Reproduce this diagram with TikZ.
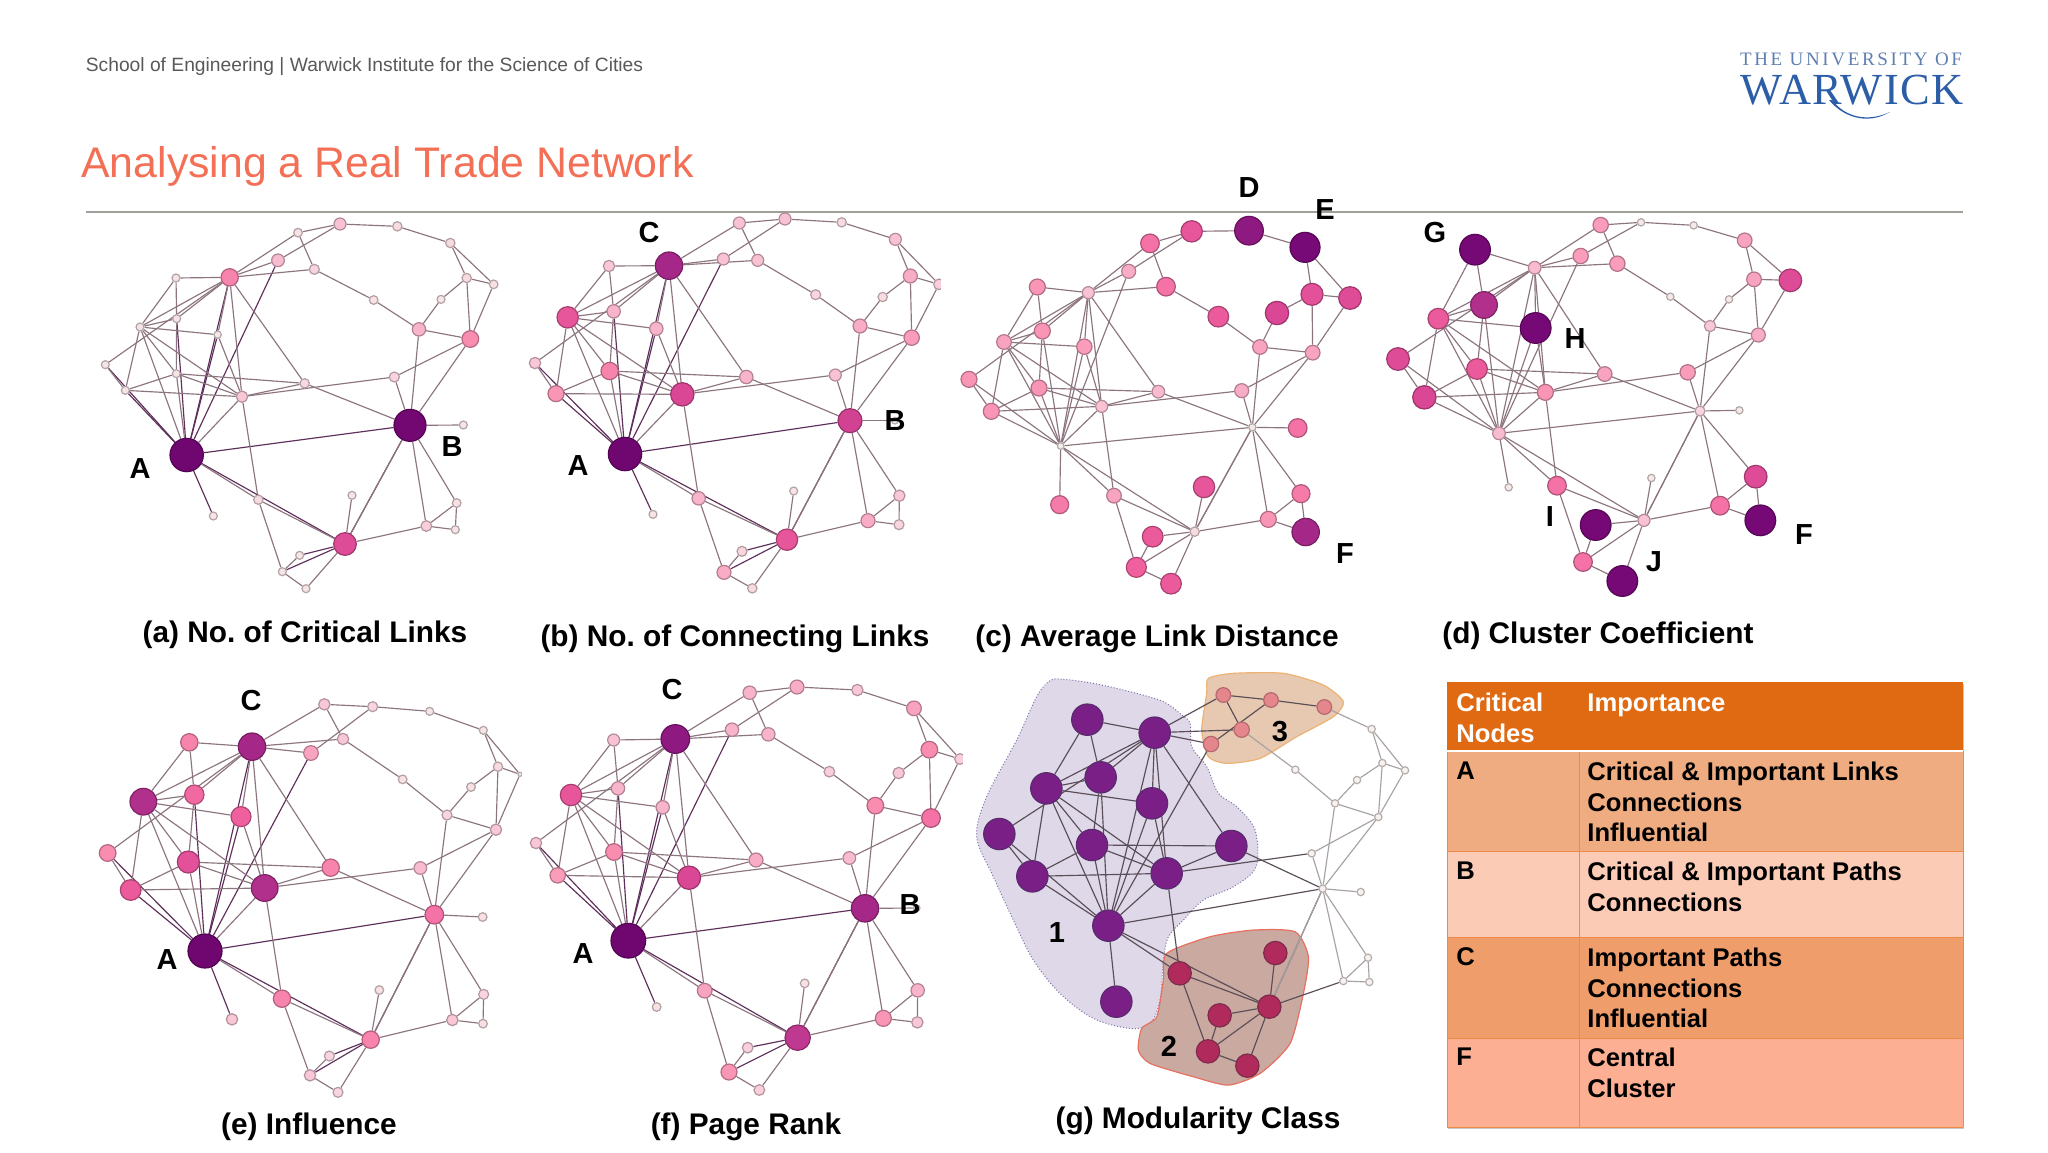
\documentclass[tikz,border=0pt]{standalone}
\usepackage{fontspec}
\setmainfont{Liberation Sans}
\newfontfamily\logosmall[LetterSpace=14]{Liberation Serif}
\newfontfamily\logobig[LetterSpace=3]{Liberation Serif}
\pgfdeclarelayer{blobs}\pgfdeclarelayer{edges}\pgfsetlayers{blobs,edges,main}
\definecolor{nc5}{HTML}{F6EEEA}\definecolor{nc10}{HTML}{F6EEEA}\definecolor{nc15}{HTML}{F9D6DF}
\definecolor{nc20}{HTML}{F8B4CB}\definecolor{nc25}{HTML}{F98DB0}\definecolor{nc30}{HTML}{F0609E}
\definecolor{nc35}{HTML}{D94795}\definecolor{nc40}{HTML}{B0308C}\definecolor{nc45}{HTML}{780A78}
\definecolor{nc50}{HTML}{700670}\definecolor{nc55}{HTML}{700670}
\definecolor{edgemid}{HTML}{8D7580}\definecolor{edgeheavy}{HTML}{5E2F5A}
\definecolor{hdr}{HTML}{E06A12}\definecolor{rowa}{HTML}{EFAC80}\definecolor{rowb}{HTML}{FBCBB6}
\definecolor{rowc}{HTML}{EF9D6B}\definecolor{rowf}{HTML}{FCAF92}\definecolor{gridc}{HTML}{EE8A45}
\definecolor{warblue}{HTML}{2C5EA8}\definecolor{warpale}{HTML}{5F7FB2}
\definecolor{gPur}{HTML}{7A1F86}\definecolor{gPurD}{HTML}{5A2A6E}
\definecolor{gRed}{HTML}{B02A5C}\definecolor{gRedD}{HTML}{7E2A4A}
\definecolor{gSal}{HTML}{E5868C}\definecolor{gSalD}{HTML}{B5686E}
\definecolor{gWht}{HTML}{F7F2EE}\definecolor{gWhtD}{HTML}{B5ADAD}
\definecolor{gE}{HTML}{5B4E58}\definecolor{gR}{HTML}{A8A2A2}
\tikzset{
  gnode/.style={circle,inner sep=0pt,line width=0.6pt},
  edgeline/.style={line width=0.58pt},
  plabel/.style={font=\fontsize{14.5}{16}\selectfont\bfseries,text=black,inner sep=0pt},
  caption/.style={font=\fontsize{14.9}{16}\selectfont\bfseries\frenchspacing,text=black,inner sep=0pt},
  celltext/.style={font=\fontsize{12.8}{15.35}\selectfont\bfseries,align=left,inner sep=0pt,anchor=north west,text=black},
  headtext/.style={celltext,text=white},
  blobzoom/.style={shift={(960,660)},x=0.1667pt,y=-0.1667pt},
}
\newcommand\heavyedges{A/H,A/C,A/s,A/R,A/L,A/M,A/J,A/B,A/Aleaf,B/J,J/S1,J/S2}
\newcommand\midedges{A/P,A/I,A/K,A/N,L/C,P/C,H/K,J/S3,G/C,G/P,G/H,H/C,H/P,P/R,P/K,P/N,P/M,L/M,M/K,M/N,K/N,K/O,R/C,R/N,N/C,N/O,N/Q,N/I,O/C,O/B,I/J,I/S2,J/Jleaf,J/Fb,S1/S2,S2/S3,C/t1,C/s,C/u,s/t2,t1/t2,t1/u,t2/t3}
\newcommand\rightedges{t3/t4,Q/q,Q/B,B/w,B/q,B/Bleaf,B/Fa,B/Fb,Fa/Fb,Fb/Fc,Fa/Fc,J/B,t4/y,t4/z,y/z,y/x,y/q,z/q,x/w,w/v,w/q,v/u}
\newcommand\paneledges[4]{%
  \begin{pgfonlayer}{edges}
  \foreach \a/\b in \heavyedges {\draw[edgeline,draw=#2] (#1\a) -- (#1\b);}
  \foreach \a/\b in \midedges {\draw[edgeline,draw=#3] (#1\a) -- (#1\b);}
  \foreach \a/\b in \rightedges {\draw[edgeline,draw=#4] (#1\a) -- (#1\b);}
  \end{pgfonlayer}}
\newcommand\panelnodes[4]{%
  \foreach \n/\x/\y/\r in {#4} {
    \pgfmathtruncatemacro\lo{floor(\r/5)*5}
    \pgfmathtruncatemacro\hi{\lo+5}
    \pgfmathtruncatemacro\pp{(\hi-\r)*20}
    \colorlet{nc}{nc\lo!\pp!nc\hi}
    \node[gnode,fill=nc,draw=nc!72!black,minimum size=\r/3*1pt] (#1\n) at ({#2+\x/3},{#3+\y/3}) {};
  }}
\newcommand\gnodes[3]{%
  \foreach \n/\x/\y/\r in {#3} {
    \node[gnode,fill=#1,draw=#2,minimum size=\r/3*1pt] (g\n) at ({960+\x/3},{660+\y/3}) {};
  }}
\begin{document}
\begin{tikzpicture}[x=0.5pt,y=-0.5pt]
\useasboundingbox (0,0) rectangle (2048,1152);
\begin{pgfonlayer}{blobs}
\fill[white] (0,0) rectangle (2048,1152);
\end{pgfonlayer}
% header
\node[anchor=west,inner sep=0pt,text=black!65,font=\fontsize{9.62}{12}\selectfont] (head) at (85.5,67) {School of Engineering | Warwick Institute for the Science of Cities};
\node[anchor=west,inner sep=0pt,text={rgb,255:red,243;green,112;blue,86},font=\fontsize{21.4}{26}\selectfont] (title) at (81,166) {Analysing a Real Trade Network};
\coordinate (ruleL) at (86,212);\coordinate (ruleR) at (1963,212);
\draw[line width=1pt,draw={rgb,255:red,160;green,160;blue,154}] (ruleL) -- (ruleR);
% logo
\node[inner sep=0pt,text=warpale,font=\fontsize{9.5}{10}\logosmall] (logoA) at (1851,59) {THE UNIVERSITY OF};
\node[inner sep=0pt,text=warblue,font=\fontsize{22.2}{24}\logobig] (logoB) at (1852,90) {WARWICK};
\fill[warblue] (1829,100) .. controls (1842,116) and (1866,126) .. (1890,112) .. controls (1868,122) and (1846,118) .. (1832,100) -- cycle;
% panel a
\panelnodes{a}{80}{200}{A/320/765/50,B/990/676/48,C/449/232/26,s/594/181/19,t1/654/98/13,t2/780/72/18,t3/952/79/14,t4/1111/129/14,u/703/208/15,v/881/300/13,w/1017/388/20,x/1083/298/12,y/1160/234/14,z/1241/253/13,q/1171/417/25,G/288/234/12,P/180/381/12,H/290/356/12,R/413/404/11,L/76/494/12,M/136/571/12,K/289/521/12,N/486/590/17,O/674/550/14,Q/943/531/15,Bleaf/1150/675/12,Aleaf/400/948/12,I/535/899/14,J/795/1032/34,Jleaf/816/886/12,Fa/1130/909/13,Fb/1039/978/16,Fc/1126/989/12,S1/659/1066/12,S2/607/1115/12,S3/678/1166/12}
\paneledges{a}{edgeheavy}{edgemid}{edgemid}
% panel b
\panelnodes{b}{520}{200}{A/315/762/50,B/990/662/36,C/447/197/41,s/610/177/18,t1/658/69/18,t2/795/57/18,t3/965/67/14,t4/1126/118/18,u/713/181/18,v/887/284/15,w/1020/378/21,x/1088/291/14,y/1171/228/21,z/1257/253/16,q/1175/413/23,G/267/198/17,P/143/352/32,H/281/334/20,R/409/386/20,L/45/489/17,M/108/581/24,K/269/513/26,N/487/583/35,O/679/531/20,Q/946/525/18,Bleaf/1125/662/10,Aleaf/399/943/12,I/536/895/20,J/801/1019/32,Jleaf/821/873/12,Fa/1138/887/17,Fb/1044/962/21,Fc/1137/974/15,S1/666/1054/15,S2/612/1117/21,S3/697/1165/14}
\paneledges{b}{edgeheavy}{edgemid}{edgemid}
% panel c
\panelnodes{c}{950}{170}{A/332/828/10,B/907/772/11,C/415/368/18,s/536/304/21,t1/600/220/28,t2/725/184/32,t3/897/182/43,t4/1065/232/45,u/648/350/28,v/805/440/31,w/930/531/22,x/981/429/35,y/1086/373/33,z/1200/384/34,q/1088/548/22,G/262/351/24,P/162/516/22,H/277/483/24,R/403/530/23,L/57/628/24,M/124/724/24,K/267/654/24,N/455/709/18,O/625/665/19,Q/875/662/21,Bleaf/1043/774/28,Aleaf/329/1004/27,I/492/977/22,J/734/1085/14,Jleaf/762/951/32,Fa/1053/971/27,Fb/955/1048/24,Fc/1067/1086/41,S1/608/1100/31,S2/559/1192/30,S3/663/1241/31}
\paneledges{c}{edgemid}{edgemid}{edgemid}
% panel d
\panelnodes{d}{1380}{200}{A/357/700/19,B/960/633/15,C/464/203/19,s/602/168/23,t1/662/75/23,t2/783/67/11,t3/941/76/11,t4/1094/121/22,u/712/191/23,v/871/290/11,w/990/378/17,x/1047/298/11,y/1122/238/22,z/1231/241/34,q/1135/405/21,G/285/149/46,P/175/356/31,H/312/315/40,R/467/384/46,L/54/477/34,M/133/592/35,K/291/507/31,N/496/577/24,O/674/522/22,Q/923/517/23,Bleaf/1078/631/11,Aleaf/386/862/11,I/531/857/28,J/792/961/18,Jleaf/814/834/11,Fa/1127/830/34,Fb/1020/917/28,Fc/1141/961/46,S1/647/975/46,S2/609/1086/28,S3/727/1143/46}
\paneledges{d}{edgemid}{edgemid}{edgemid}
% panel e
\panelnodes{e}{90}{680}{A/345/813/51,B/1033/704/28,C/486/200/41,s/663/219/22,t1/703/73/17,t2/848/80/15,t3/1019/94/12,t4/1180/151/12,u/759/177/17,v/938/298/13,w/1071/405/15,x/1143/321/13,y/1224/260/14,z/1290/283/6,q/1218/449/17,G/298/187/26,P/160/365/40,H/313/344/29,R/453/410/30,L/53/519/25,M/122/630/31,K/295/546/33,N/524/624/40,O/722/563/26,Q/991/564/19,Bleaf/1178/711/13,Aleaf/426/1018/17,I/576/956/26,J/842/1079/26,Jleaf/868/930/13,Fa/1181/943/15,Fb/1087/1020/17,Fc/1179/1031/13,S1/718/1128/15,S2/660/1186/17,S3/744/1237/15}
\paneledges{e}{edgeheavy}{edgemid}{edgemid}
% panel f
\panelnodes{f}{520}{670}{A/325/812/52,B/1035/715/41,C/466/207/43,s/636/179/20,t1/689/68/20,t2/831/51/21,t3/1012/60/17,t4/1182/115/22,u/745/193/20,v/928/305/16,w/1066/407/25,x/1136/309/17,y/1228/239/25,z/1320/267/16,q/1233/444/28,G/281/210/18,P/153/375/32,H/294/355/20,R/428/412/20,L/48/519/17,M/113/616/23,K/282/546/25,N/507/623/35,O/708/570/21,Q/988/564/19,Bleaf/1190/714/10,Aleaf/410/1011/13,I/554/962/22,J/833/1103/38,Jleaf/854/940/13,Fa/1193/961/20,Fb/1090/1045/24,Fc/1192/1057/17,S1/683/1133/16,S2/627/1206/24,S3/718/1260/16}
\paneledges{f}{edgeheavy}{edgemid}{edgemid}
% panel g
\begin{pgfonlayer}{blobs}
\filldraw[fill={rgb,255:red,222;green,216;blue,232},draw={rgb,255:red,120;green,115;blue,165},line width=0.5pt,densely dotted,blobzoom]
 plot[smooth cycle,tension=0.55] coordinates {(270,62) (310,58) (400,70) (510,95) (610,125) (665,165) (690,190) (695,260) (740,320) (775,400) (830,440) (885,510) (888,620) (820,680) (730,720) (670,780) (625,830) (610,900) (600,1020) (570,1090) (510,1105) (400,1075) (300,1000) (220,900) (160,780) (100,650) (50,530) (80,410) (170,240) (230,110)};
\filldraw[fill={rgb,255:red,201;green,169;blue,160},draw={rgb,255:red,232;green,112;blue,96},line width=0.6pt,blobzoom]
 plot[smooth cycle,tension=0.4] coordinates {(535,1170) (545,1105) (590,1070) (610,960) (620,880) (750,830) (880,810) (1005,815) (1045,890) (1030,1000) (990,1150) (900,1240) (805,1275) (700,1250) (570,1210)};
\filldraw[fill={rgb,255:red,230;green,201;blue,176},draw={rgb,255:red,237;green,178;blue,115},line width=0.6pt,blobzoom]
 plot[smooth cycle,tension=0.4] coordinates {(745,55) (820,40) (970,40) (1090,75) (1150,125) (1120,170) (1010,230) (900,295) (800,310) (745,290) (725,210) (740,100)};
\end{pgfonlayer}
\gnodes{gPur}{gPurD}{A/445/797/47,C/584/218/47,G/382/179/47,P/259/385/47,H/422/352/47,R/576/430/47,L/118/522/47,M/217/649/47,K/396/555/47,N/620/640/47,O/814/558/47,Aleaf/469/1025/47}
\gnodes{gRed}{gRedD}{I/659/940/35,J/928/1040/35,Jleaf/946/879/35,S1/779/1066/35,S2/744/1174/35,S3/862/1217/35}
\gnodes{gSal}{gSalD}{s/753/252/23,t1/790/105/22,t2/933/120/22,t3/1093/141/22,u/845/209/23}
\gnodes{gWht}{gWhtD}{B/1088/686/11,t4/1235/207/11,v/1006/329/11,w/1125/430/11,x/1191/360/11,y/1267/309/11,z/1335/331/11,q/1255/471/11,Q/1055/580/11,Bleaf/1202/696/11,Fa/1224/893/11,Fb/1150/963/11,Fc/1228/966/11}
\paneledges{g}{gE}{gE}{gR}
% cropped image edges
\fill[white] (941,270) rectangle (948,298);
\fill[white] (962.7,750) rectangle (968,770);
\fill[white] (521.5,765) rectangle (526,785);
% panel labels
\foreach \nm/\x/\y/\t in {la/140/469/A,lb/452/447/B,lc/649/233/C,ld/578/466/A,le/895/421/B,lf/1249/188/D,lg/1325/210/E,lh/1345/554/F,li/1435/233/G,lj/1575/339/H,lk/1550/517/I,ll/1654/562/J,lm/1804/535/F,ln/251/701/C,lo/167/960/A,lp/672/690/C,lq/583/954/A,lr/910/905/B,ls/1057/933/1,lt/1169/1046/2,lu/1280/732/3}
  {\node[plabel] (\nm) at (\x,\y) {\t};}
% captions
\node[caption] (capa) at (305,635) {(a) No. of Critical Links};
\node[caption] (capb) at (735,639) {(b) No. of Connecting Links};
\node[caption] (capc) at (1157,639) {(c) Average Link Distance};
\node[caption] (capd) at (1598,636) {(d) Cluster Coefficient};
\node[caption] (cape) at (309,1127) {(e) Influence};
\node[caption] (capf) at (746,1127) {(f) Page Rank};
\node[caption] (capg) at (1198,1121) {(g) Modularity Class};
% table
\fill[black!22] (1448,684) rectangle (1964,1129);
\fill[hdr] (1447,682) rectangle (1963,750);
\fill[rowa] (1447,750) rectangle (1963,851);
\fill[rowb] (1447,851) rectangle (1963,937);
\fill[rowc] (1447,937) rectangle (1963,1038);
\fill[rowf] (1447,1038) rectangle (1963,1127);
\draw[gridc,line width=0.5pt] (1579,751) -- (1579,1127) (1447,851) -- (1963,851) (1447,937) -- (1963,937) (1447,1038) -- (1963,1038) (1447,1127) -- (1963,1127) (1447,751) -- (1447,1127) (1963,751) -- (1963,1127);
\draw[white,line width=1pt] (1447,751) -- (1963,751);
\node[headtext] (th1) at (1456,693) {Critical\\Nodes};
\node[headtext] (th2) at (1587,693) {Importance};
\node[celltext] (ra) at (1456,761.5) {A};
\node[celltext] (rat) at (1587,761.5) {Critical \& Important Links\\Connections\\Influential};
\node[celltext] (rb) at (1456,861.5) {B};
\node[celltext] (rbt) at (1587,861.5) {Critical \& Important Paths\\Connections};
\node[celltext] (rc) at (1456,947.5) {C};
\node[celltext] (rct) at (1587,947.5) {Important Paths\\Connections\\Influential};
\node[celltext] (rf) at (1456,1047.5) {F};
\node[celltext] (rft) at (1587,1047.5) {Central\\Cluster};
\end{tikzpicture}
\end{document}
